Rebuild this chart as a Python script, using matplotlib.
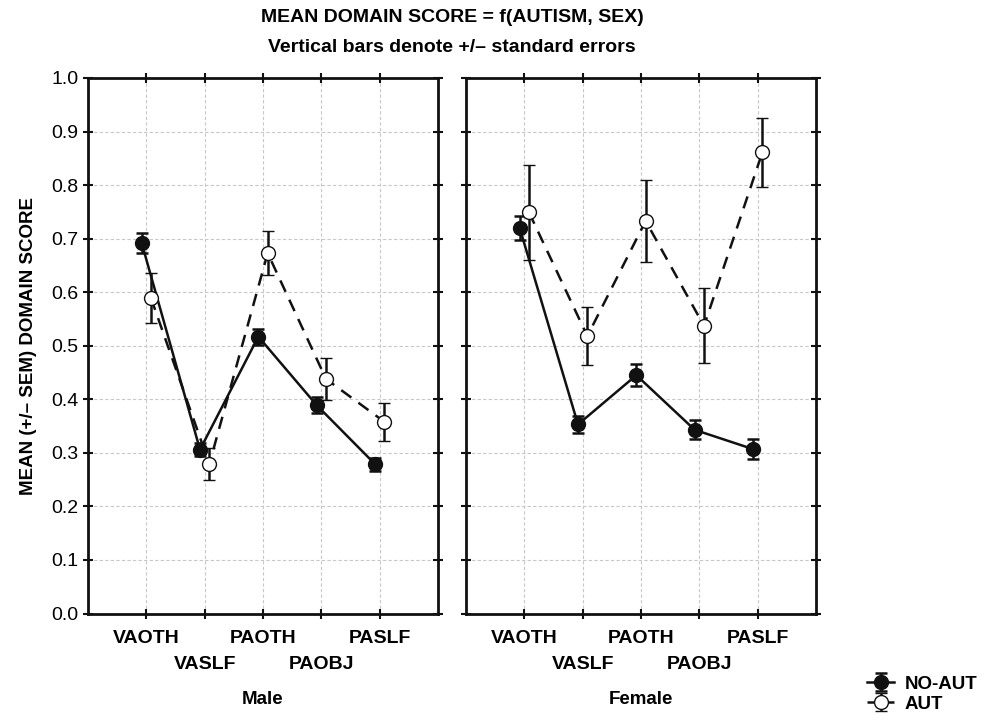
import matplotlib
matplotlib.use("Agg")
import matplotlib.pyplot as plt
import numpy as np

plt.rcParams['font.family'] = ['Liberation Sans', 'DejaVu Sans']

categories = ['VAOTH', 'VASLF', 'PAOTH', 'PAOBJ', 'PASLF']
panels = ['Male', 'Female']

# mean domain score and SEM
noaut_male = [0.692, 0.306, 0.517, 0.389, 0.279]
noaut_male_err = [0.019, 0.012, 0.015, 0.015, 0.012]
aut_male = [0.589, 0.279, 0.673, 0.438, 0.358]
aut_male_err = [0.047, 0.030, 0.041, 0.039, 0.036]

noaut_female = [0.720, 0.353, 0.445, 0.343, 0.307]
noaut_female_err = [0.022, 0.016, 0.021, 0.018, 0.018]
aut_female = [0.749, 0.518, 0.733, 0.537, 0.861]
aut_female_err = [0.088, 0.054, 0.077, 0.070, 0.065]

fig = plt.figure(figsize=(9.85, 7.21), dpi=100)
W, H = 985, 721

def px_axes(x0, x1, ytop, ybot):
    return fig.add_axes([x0 / W, 1 - ybot / H, (x1 - x0) / W, (ybot - ytop) / H])

ax1 = px_axes(88, 438, 78, 613.5)
ax2 = px_axes(466, 816, 78, 613.5)

x = np.arange(1, len(categories) + 1)
off = 0.08
data = [(ax1, noaut_male, noaut_male_err, aut_male, aut_male_err),
        (ax2, noaut_female, noaut_female_err, aut_female, aut_female_err)]

for i, (ax, m1, e1, m2, e2) in enumerate(data):
    h1 = ax.errorbar(x - off, m1, yerr=e1, color='#111111', ls='-', lw=1.8,
                     marker='o', ms=10, mfc='#111111', mec='#111111',
                     elinewidth=1.8, capsize=4, capthick=1.8, zorder=3,
                     label='NO-AUT')
    h2 = ax.errorbar(x + off, m2, yerr=e2, color='#111111', ls=(0, (5, 3.5)), lw=1.8,
                     marker='o', ms=10, mfc='white', mec='#111111', mew=1.0,
                     elinewidth=1.8, capsize=4, capthick=1.8, zorder=4,
                     label='AUT')
    ax.set_xlim(0, 6)
    ax.set_ylim(0, 1.0)
    ax.set_xticks(x)
    ax.set_yticks(np.arange(0, 1.01, 0.1))
    ax.grid(True, color='#c8c8c8', ls=(0, (3, 2)), lw=0.8)
    ax.set_axisbelow(True)
    for s in ax.spines.values():
        s.set_linewidth(2)
        s.set_color('#111111')
    ax.tick_params(direction='inout', length=7, width=1.5, top=True, right=True,
                   labelsize=14, color='#111111')
    ax.set_xticklabels([])
    # staggered category labels, two rows
    tr = ax.get_xaxis_transform()
    for k, c in enumerate(categories):
        yy = -0.047 if k % 2 == 0 else -0.095
        ax.text(x[k], yy, c, transform=tr, ha='center', va='center',
                fontweight='bold', fontsize=14)
    ax.text(0.5, -0.161, panels[i], transform=ax.transAxes, ha='center', va='center',
            fontweight='bold', fontsize=13.5)
    if i == 0:
        ax.set_yticklabels(['%.1f' % v for v in np.arange(0, 1.01, 0.1)])
        ax.set_ylabel('MEAN (+/\u2013 SEM) DOMAIN SCORE', fontweight='bold', fontsize=13.5,
                      labelpad=10)
    else:
        ax.set_yticklabels([])

fig.text(452 / W, 1 - 18 / H, 'MEAN DOMAIN SCORE = f(AUTISM, SEX)', ha='center', va='center',
         fontweight='bold', fontsize=14)
fig.text(452 / W, 1 - 48 / H, 'Vertical bars denote +/\u2013 standard errors', ha='center',
         va='center', fontweight='bold', fontsize=14)

fig.legend([h1, h2], ['NO-AUT', 'AUT'], loc='center left', bbox_to_anchor=(858 / W, 1 - 694 / H),
           frameon=False, prop={'weight': 'bold', 'size': 13.5}, handlelength=1.4,
           handletextpad=0.6, labelspacing=0.15, borderpad=0)

fig.savefig('out.png', dpi=100)
